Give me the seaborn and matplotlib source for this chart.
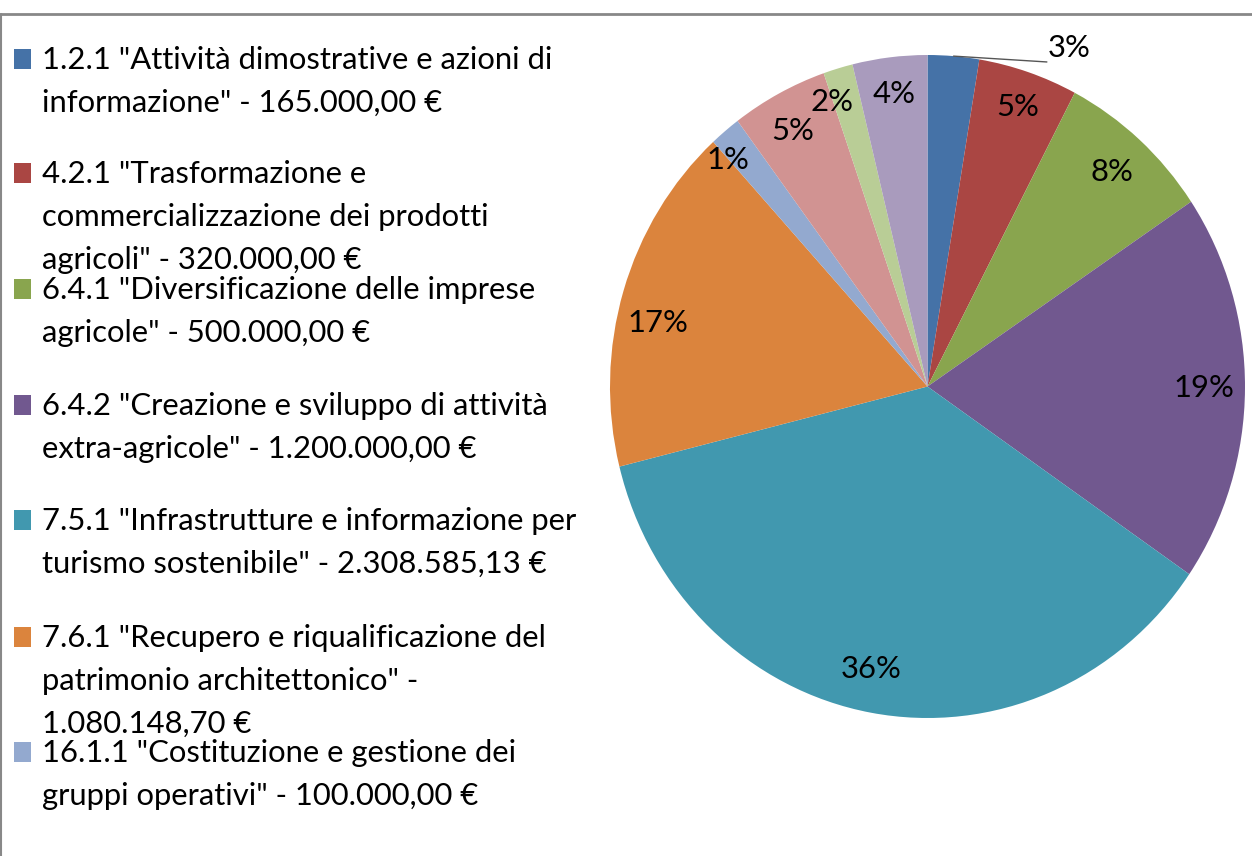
import matplotlib
matplotlib.use("Agg")
import matplotlib.pyplot as plt
import seaborn as sns
import numpy as np
from matplotlib.patches import Rectangle
from matplotlib.lines import Line2D

sns.set_theme(style="white")
plt.rcParams['font.family'] = ['Lato', 'DejaVu Sans']

# ---- data ----
values = [165000.00, 320000.00, 500000.00, 1200000.00, 2308585.13,
          1080148.70, 100000.00, 310000.00, 95000.00, 240000.00]
pct_labels = ["3%", "5%", "8%", "19%", "36%", "17%", "1%", "5%", "2%", "4%"]
colors = ["#4572A7", "#AA4643", "#89A54E", "#71588F", "#4198AF",
          "#DB843D", "#93A9CF", "#D19392", "#B9CD96", "#A99BBD"]
legend_labels = [
    "1.2.1 \"Attività dimostrative e azioni di\ninformazione\" - 165.000,00 €",
    "4.2.1 \"Trasformazione e\ncommercializzazione dei prodotti\nagricoli\" - 320.000,00 €",
    "6.4.1 \"Diversificazione delle imprese\nagricole\" - 500.000,00 €",
    "6.4.2 \"Creazione e sviluppo di attività\nextra-agricole\" - 1.200.000,00 €",
    "7.5.1 \"Infrastrutture e informazione per\nturismo sostenibile\" - 2.308.585,13 €",
    "7.6.1 \"Recupero e riqualificazione del\npatrimonio architettonico\" -\n1.080.148,70 €",
    "16.1.1 \"Costituzione e gestione dei\ngruppi operativi\" - 100.000,00 €",
]

W, H = 1252, 856
fig = plt.figure(figsize=(W / 100, H / 100), dpi=100)
fig.patch.set_facecolor("white")

# pie axes (pixel box of the pie)
cx, cy, rx, ry = 927.5, 386.5, 317.5, 331.5
ax = fig.add_axes([(cx - rx) / W, (H - cy - ry) / H, 2 * rx / W, 2 * ry / H])
wedges, _ = ax.pie(values, colors=colors, startangle=90, counterclock=False,
                   radius=1.0, wedgeprops=dict(linewidth=0))
ax.set_xlim(-1, 1)
ax.set_ylim(-1, 1)
ax.set_aspect("auto")
ax.axis("off")

fs = 22.3
# small label placement tweaks (angle shift in degrees, radius)
ang_shift = [0, 0, 0, 0, -1.5, 4, 3, 1, 3, 0]
lab_r = [0, 0.89, 0.87, 0.87, 0.87, 0.87, 0.93, 0.88, 0.91, 0.89]
for i, (w, lab) in enumerate(zip(wedges, pct_labels)):
    ang = np.deg2rad((w.theta1 + w.theta2) / 2 + ang_shift[i])
    if i == 0:
        x0, y0 = np.cos(ang), np.sin(ang)
        ax.add_line(Line2D([x0, 0.376], [y0, 0.979], color="#555555", lw=1.0,
                           clip_on=False))
        ax.text(0.378, 1.02, lab, ha="left", va="center", fontsize=fs,
                color="black", clip_on=False)
        continue
    r = lab_r[i]
    ax.text(r * np.cos(ang), r * np.sin(ang), lab, ha="center", va="center",
            fontsize=fs, color="black")

# legend (manual)
baselines = [69, 183, 299, 415, 530, 647, 762]
line_step = 43
for lab, col, yb in zip(legend_labels, colors, baselines):
    fig.patches.append(Rectangle((14 / W, (H - yb) / H), 17 / W, 20 / H,
                                 transform=fig.transFigure, facecolor=col,
                                 edgecolor="none"))
    for j, line in enumerate(lab.split("\n")):
        fig.text(42 / W, (H - (yb + j * line_step)) / H, line, ha="left",
                 va="baseline", fontsize=fs, color="black")

# chart border (top and left visible)
fig.lines.append(Line2D([0, 1], [(H - 14) / H] * 2, transform=fig.transFigure,
                        color="#888888", lw=2))
fig.lines.append(Line2D([1 / W] * 2, [0, (H - 14) / H], transform=fig.transFigure,
                        color="#888888", lw=1.5))

fig.savefig("out.png", dpi=100)
